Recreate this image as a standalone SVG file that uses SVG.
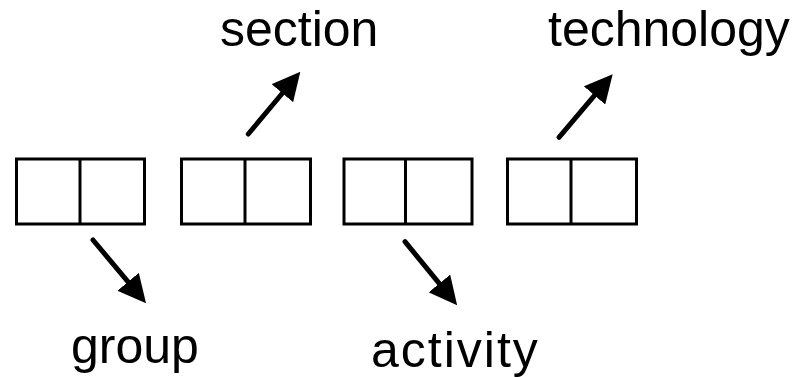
<svg xmlns="http://www.w3.org/2000/svg" width="797" height="377" viewBox="0 0 797 377">
<style>
.box{fill:#fff;stroke:#000;stroke-width:3}
.div{stroke:#000;stroke-width:3}
.arr{stroke:#000;stroke-width:5;stroke-linecap:round;fill:none;marker-end:url(#head)}
text{font-family:"Liberation Sans",Arial,sans-serif;font-size:50px;fill:#000}
</style>
<defs>
<marker id="head" markerUnits="userSpaceOnUse" markerWidth="28" markerHeight="28" viewBox="0 0 28 28" refX="1" refY="14" orient="auto">
<path d="M0,0 L28,14 L0,28 z" fill="#000"/>
</marker>
</defs>
<rect width="797" height="377" fill="#fff"/>
<g id="node1"><rect class="box" x="16.5" y="159" width="128" height="65"/><line class="div" x1="80" y1="159" x2="80" y2="224"/></g>
<g id="node2"><rect class="box" x="181.5" y="159" width="129" height="65"/><line class="div" x1="245" y1="159" x2="245" y2="224"/></g>
<g id="node3"><rect class="box" x="344" y="159" width="128" height="65"/><line class="div" x1="405.5" y1="159" x2="405.5" y2="224"/></g>
<g id="node4"><rect class="box" x="507.5" y="159" width="129" height="65"/><line class="div" x1="571" y1="159" x2="571" y2="224"/></g>
<g id="connectors">
<line class="arr" x1="93" y1="240" x2="128.7" y2="282.6"/>
<line class="arr" x1="248.3" y1="134" x2="283" y2="92.5"/>
<line class="arr" x1="405" y1="241.7" x2="440" y2="284.3"/>
<line class="arr" x1="559" y1="137.3" x2="595.2" y2="94.7"/>
</g>
<g id="label-section"><text x="220" y="46">section</text></g>
<g id="label-technology"><text x="548" y="46">technology</text></g>
<g id="label-group"><text x="71" y="363">group</text></g>
<g id="label-activity"><text x="371" y="367" style="letter-spacing:2px">activity</text></g>
</svg>
